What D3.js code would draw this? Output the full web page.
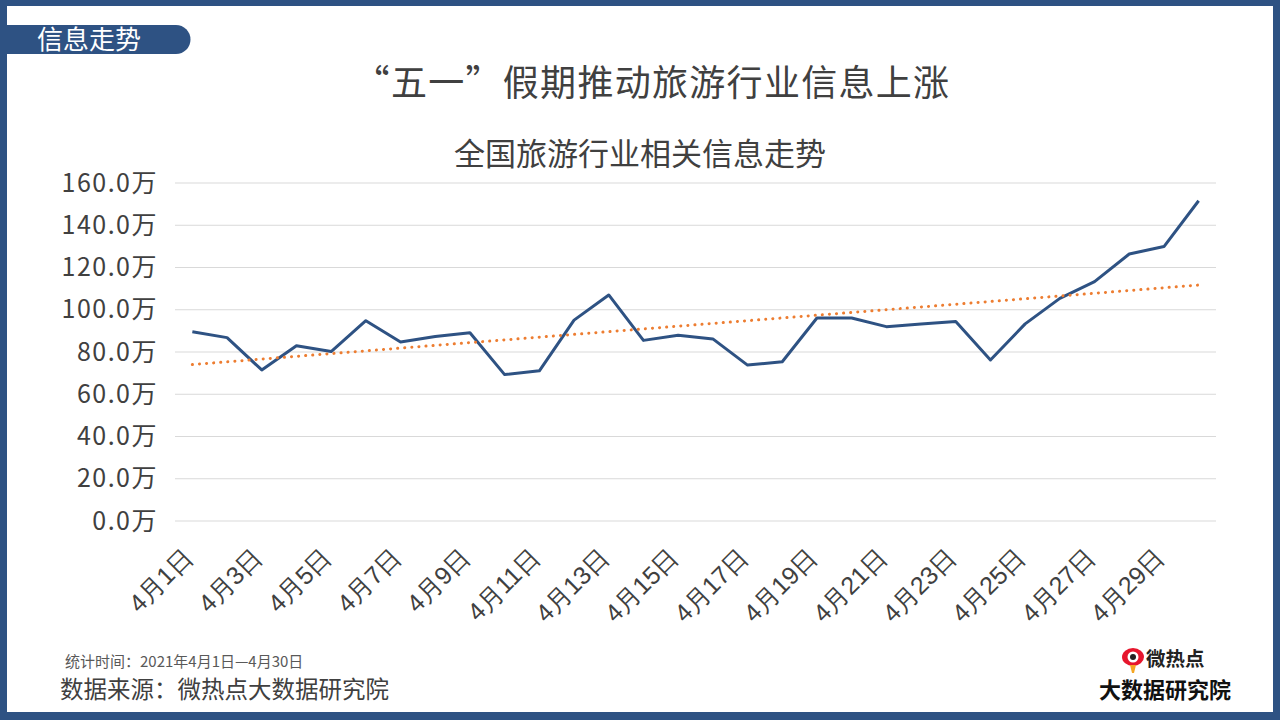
<!DOCTYPE html>
<html><head><meta charset="utf-8">
<script src="https://cdn.jsdelivr.net/npm/d3@7"></script>
<style>
html,body{margin:0;padding:0;background:#fff;}
svg{display:block;font-family:"Noto Sans CJK SC","Noto Sans",sans-serif;}
</style></head>
<body>
<svg id="c" width="1280" height="720"></svg>
<script>
const categories = ["4月1日","4月2日","4月3日","4月4日","4月5日","4月6日","4月7日","4月8日","4月9日","4月10日",
  "4月11日","4月12日","4月13日","4月14日","4月15日","4月16日","4月17日","4月18日","4月19日","4月20日",
  "4月21日","4月22日","4月23日","4月24日","4月25日","4月26日","4月27日","4月28日","4月29日","4月30日"];
const values = [89.6,86.8,71.5,83.0,80.2,94.8,84.7,87.3,89.1,69.3,
  71.1,95.1,107.0,85.5,87.9,86.2,73.8,75.4,96.1,96.1,
  92.0,93.3,94.4,76.2,93.3,105.4,113.3,126.4,129.9,151.6];
const yTicks = [0,20,40,60,80,100,120,140,160];
const title = "“五一”假期推动旅游行业信息上涨";
const subtitle = "全国旅游行业相关信息走势";
const tabLabel = "信息走势";
const footNote = "统计时间：2021年4月1日—4月30日";
const source = "数据来源：微热点大数据研究院";

const svg = d3.select("#c");
const blue = "#2E5283";

// frame
svg.append("rect").attr("x",0).attr("y",0).attr("width",1280).attr("height",720).attr("fill",blue);
svg.append("rect").attr("x",7).attr("y",6).attr("width",1266).attr("height",706).attr("fill","#fff");

// tab
svg.append("path").attr("fill",blue)
  .attr("d","M7,25 H176 A14.5,14.5 0 0 1 176,54 H7 Z");
svg.append("text").attr("x",37).attr("y",49).attr("font-size",26).attr("fill","#fff").text(tabLabel);

// titles
svg.append("text").attr("x",652).attr("y",96).attr("text-anchor","middle")
  .attr("font-size",36).attr("letter-spacing","1.3px").attr("fill","#404040").text(title);
svg.append("text").attr("x",640).attr("y",165).attr("text-anchor","middle")
  .attr("font-size",31).attr("fill","#404040").text(subtitle);

// scales
const x = d3.scaleBand().domain(categories).range([175,1216]);
const y = d3.scaleLinear().domain([0,160]).range([521,183]);
const cx = d => x(d) + x.bandwidth()/2;

// gridlines
svg.append("g").selectAll("line").data(yTicks).join("line")
  .attr("x1",175).attr("x2",1216).attr("y1",d=>y(d)).attr("y2",d=>y(d))
  .attr("stroke","#d9d9d9").attr("stroke-width",1);

// y axis labels
const yAxis = d3.axisLeft(y).tickValues(yTicks).tickSize(0).tickPadding(0)
  .tickFormat(d => d3.format(".1f")(d) + "万");
const gy = svg.append("g").attr("transform","translate(158,0)").call(yAxis);
gy.select(".domain").remove();
gy.selectAll("text").attr("font-size",25).attr("fill","#404040")
  .attr("font-family",'"Noto Sans CJK SC",sans-serif').attr("letter-spacing","1.5px");

// x axis labels
const xAxis = d3.axisBottom(x).tickValues(categories.filter((d,i)=>i%2===0)).tickSize(0);
const gx = svg.append("g").attr("transform","translate(0,521)").call(xAxis);
gx.select(".domain").remove();
gx.selectAll("text").attr("font-size",25).attr("fill","#404040")
  .attr("text-anchor","end").attr("dy",0).attr("y",0)
  .attr("transform","translate(2,38) rotate(-45)");

// trend line (linear regression)
const n = values.length;
const xs = d3.range(1,n+1);
const mx = d3.mean(xs), my = d3.mean(values);
const slope = d3.sum(xs, (xi,i)=>(xi-mx)*(values[i]-my)) / d3.sum(xs, xi=>(xi-mx)*(xi-mx));
const icpt = my - slope*mx;
const trend = [0, n-1].map(i => ({c:categories[i], v: icpt + slope*(i+1)}));

// data line
const line = d3.line().x(d=>cx(d.c)).y(d=>y(d.v));
svg.append("path").datum(categories.map((c,i)=>({c, v:values[i]})))
  .attr("d",line).attr("fill","none").attr("stroke",blue).attr("stroke-width",3)
  .attr("stroke-linejoin","round");
svg.append("path").datum(trend).attr("d",line).attr("fill","none")
  .attr("stroke","#ED7D31").attr("stroke-width",3).attr("stroke-linecap","round")
  .attr("stroke-dasharray","0.1 7");

// footer
svg.append("text").attr("x",65).attr("y",667).attr("font-size",15).attr("fill","#595959").text(footNote);
svg.append("text").attr("x",60).attr("y",698).attr("font-size",23.5).attr("fill","#404040").text(source);

// logo
const lg = svg.append("g");
lg.append("path").attr("fill","#E6162D")
  .attr("d","M1122,657 a11,9 0 1 1 22,0 a11,9 0 1 1 -22,0 Z");
lg.append("circle").attr("cx",1133).attr("cy",657).attr("r",5.5).attr("fill","#fff");
lg.append("circle").attr("cx",1133).attr("cy",657).attr("r",3).attr("fill","#222");
lg.append("path").attr("fill","#F5A623").attr("d","M1130,665 L1136,665 L1134,673 L1132,673 Z");
lg.append("text").attr("x",1146).attr("y",666).attr("font-size",19.5).attr("font-weight","bold")
  .attr("fill","#222").text("微热点");
lg.append("text").attr("x",1099).attr("y",698).attr("font-size",22).attr("font-weight","bold")
  .attr("fill","#111").text("大数据研究院");
</script>
</body></html>
